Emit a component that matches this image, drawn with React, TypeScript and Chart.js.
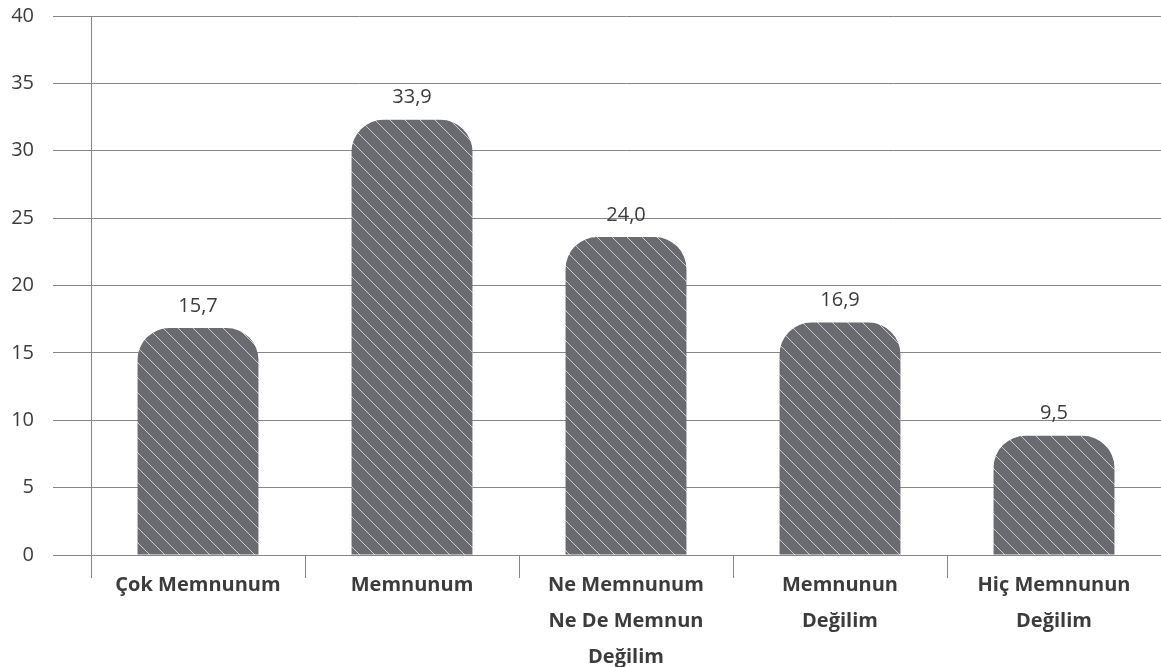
import React, { useEffect, useRef } from "react";
import { Chart, registerables } from "chart.js";

Chart.register(...registerables);

const categories: string[][] = [
  ["Çok Memnunum"],
  ["Memnunum"],
  ["Ne Memnunum", "Ne De Memnun", "Değilim"],
  ["Memnunun", "Değilim"],
  ["Hiç Memnunun", "Değilim"],
];
// bar heights as drawn in the picture
const barHeights: number[] = [16.85, 32.3, 23.6, 17.25, 8.85];
// value labels printed above the bars
const valueLabels: string[] = ["15,7", "33,9", "24,0", "16,9", "9,5"];

const yMin = 0;
const yMax = 40;
const yStep = 5;

const FONT = "'Open Sans', 'Noto Sans', sans-serif";
const TEXT = "#3c3c3c";
const GRID = "#868686";

function makePattern(ctx: CanvasRenderingContext2D): CanvasPattern | string {
  const s = 15;
  const c = document.createElement("canvas");
  c.width = s;
  c.height = s;
  const p = c.getContext("2d");
  if (!p) return "#6a6b70";
  p.fillStyle = "#6a6b70";
  p.fillRect(0, 0, s, s);
  p.strokeStyle = "#c9c9cc";
  p.lineWidth = 1;
  p.beginPath();
  p.moveTo(-2, -2);
  p.lineTo(s + 2, s + 2);
  p.stroke();
  return ctx.createPattern(c, "repeat") || "#6a6b70";
}

const valueLabelPlugin = {
  id: "valueLabels",
  afterDatasetsDraw(chart: any) {
    const ctx = chart.ctx;
    const meta = chart.getDatasetMeta(0);
    ctx.save();
    ctx.font = `20px ${FONT}`;
    ctx.fillStyle = TEXT;
    ctx.textAlign = "center";
    ctx.textBaseline = "middle";
    meta.data.forEach((bar: any, i: number) => {
      ctx.fillText(valueLabels[i], bar.x, bar.y - 22);
    });
    ctx.restore();
  },
};

export default function App() {
  const ref = useRef<HTMLCanvasElement | null>(null);

  useEffect(() => {
    document.body.style.margin = "0";
    const canvas = ref.current;
    if (!canvas) return;
    const ctx = canvas.getContext("2d");
    if (!ctx) return;
    const pattern = makePattern(ctx);
    const chart = new Chart(canvas, {
      type: "bar",
      data: {
        labels: categories,
        datasets: [
          {
            data: barHeights,
            backgroundColor: pattern as any,
            borderWidth: 0,
            borderRadius: { topLeft: 32, topRight: 32, bottomLeft: 0, bottomRight: 0 },
            borderSkipped: "bottom",
            categoryPercentage: 1,
            barPercentage: 0.565,
          },
        ],
      },
      options: {
        responsive: false,
        animation: false,
        layout: { padding: { top: 16, right: 0, left: 0, bottom: 0 } },
        plugins: {
          legend: { display: false },
          tooltip: { enabled: false },
        },
        scales: {
          x: {
            offset: true,
            grid: {
              offset: true,
              drawOnChartArea: false,
              drawTicks: true,
              tickLength: 23,
              color: GRID,
              lineWidth: 1,
            },
            border: { display: true, color: GRID },
            ticks: {
              color: TEXT,
              font: { family: FONT, size: 20, weight: "bold", lineHeight: 1.8 },
              padding: -11,
              maxRotation: 0,
              autoSkip: false,
            },
            afterFit(scale: any) {
              scale.height = 112;
              scale.paddingLeft = 0;
              scale.paddingRight = 0;
            },
          },
          y: {
            min: yMin,
            max: yMax,
            grid: {
              color: GRID,
              lineWidth: 1,
              drawTicks: true,
              tickLength: 38,
            },
            border: { display: true, color: GRID },
            ticks: {
              stepSize: yStep,
              color: TEXT,
              font: { family: FONT, size: 20 },
              padding: 19,
            },
            afterFit(scale: any) {
              scale.width = 91;
              scale.paddingTop = 0;
              scale.paddingBottom = 0;
            },
          },
        },
      },
      plugins: [valueLabelPlugin],
    });
    return () => chart.destroy();
  }, []);

  return (
    <div style={{ width: 1161, height: 667 }}>
      <canvas ref={ref} width={1161} height={667} style={{ display: "block" }} />
    </div>
  );
}
